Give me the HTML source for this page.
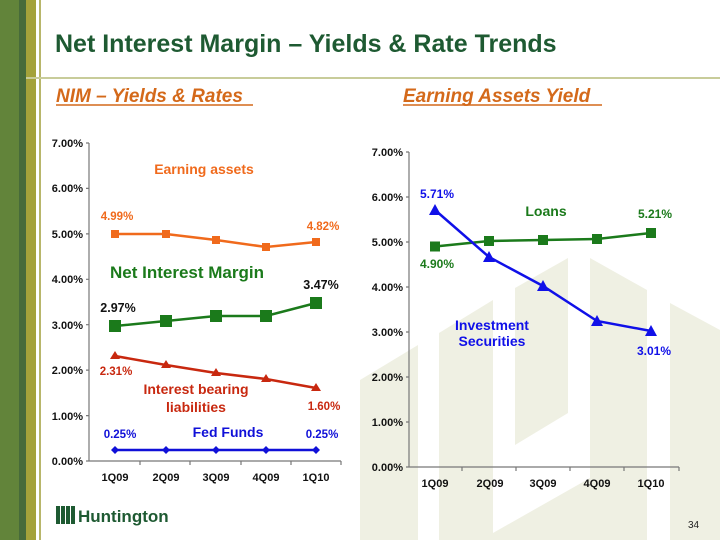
<!DOCTYPE html>
<html><head><meta charset="utf-8"><style>
body{margin:0;width:720px;height:540px;overflow:hidden;background:#fff;font-family:"Liberation Sans",Arial,sans-serif;}
</style></head><body>
<svg width="720" height="540" viewBox="0 0 720 540" xmlns="http://www.w3.org/2000/svg" font-family="Liberation Sans, Arial, sans-serif">
<!-- watermark -->
<g fill="#eff0e3">
<polygon points="360,380 418,345 418,540 360,540"/>
<polygon points="439,333 493,300 493,540 439,540"/>
<polygon points="515,288 568,258 568,413 515,445"/>
<polygon points="590,258 647,290 647,540 493,540 493,533 590,478"/>
<polygon points="670,303 720,330 720,540 670,540"/>
</g>
<!-- left stripes -->
<rect x="0" y="0" width="19" height="540" fill="#62843a"/>
<rect x="19" y="0" width="7" height="540" fill="#476b3a"/>
<rect x="26" y="0" width="10" height="540" fill="#a4a23a"/>
<rect x="39" y="0" width="2" height="540" fill="#b8b66a"/>
<rect x="26" y="77" width="694" height="2" fill="#c8cc9a"/>
<text x="55" y="52" font-size="25" font-weight="bold" fill="#1e5a32">Net Interest Margin – Yields &amp; Rate Trends</text>
<text x="56" y="102" font-size="19" font-weight="bold" font-style="italic" fill="#d4691a">NIM – Yields &amp; Rates</text>
<line x1="56" y1="105" x2="253" y2="105" stroke="#d4691a" stroke-width="1.5"/>
<text x="403" y="102" font-size="19" font-weight="bold" font-style="italic" fill="#d4691a">Earning Assets Yield</text>
<line x1="403" y1="105" x2="602" y2="105" stroke="#d4691a" stroke-width="1.5"/>

<!-- left chart axes -->
<g stroke="#777" stroke-width="1.2" fill="none">
<line x1="89" y1="143" x2="89" y2="461"/>
<line x1="89" y1="461" x2="341" y2="461"/>
<path d="M86 143h3M86 188.4h3M86 233.9h3M86 279.3h3M86 324.7h3M86 370.1h3M86 415.6h3M86 461h3"/>
<path d="M140 461v4M190 461v4M241 461v4M291 461v4M341 461v4"/>
</g>
<g font-size="11" font-weight="bold" fill="#111" text-anchor="end">
<text x="83" y="147">7.00%</text><text x="83" y="192">6.00%</text><text x="83" y="238">5.00%</text><text x="83" y="283">4.00%</text><text x="83" y="329">3.00%</text><text x="83" y="374">2.00%</text><text x="83" y="420">1.00%</text><text x="83" y="465">0.00%</text>
</g>
<g font-size="11" font-weight="bold" fill="#111" text-anchor="middle">
<text x="115" y="481">1Q09</text><text x="166" y="481">2Q09</text><text x="216" y="481">3Q09</text><text x="266" y="481">4Q09</text><text x="316" y="481">1Q10</text>
</g>
<polyline points="115,234 166,234 216,240 266,247 316,242" fill="none" stroke="#f06a1c" stroke-width="2.5"/>
<g fill="#f06a1c"><rect x="111" y="230" width="8" height="8"/><rect x="162" y="230" width="8" height="8"/><rect x="212" y="236" width="8" height="8"/><rect x="262" y="243" width="8" height="8"/><rect x="312" y="238" width="8" height="8"/></g>
<polyline points="115,326 166,321 216,316 266,316 316,303" fill="none" stroke="#1b7a1b" stroke-width="2.5"/>
<g fill="#1b7a1b"><rect x="109" y="320" width="12" height="12"/><rect x="160" y="315" width="12" height="12"/><rect x="210" y="310" width="12" height="12"/><rect x="260" y="310" width="12" height="12"/><rect x="310" y="297" width="12" height="12"/></g>
<polyline points="115,356 166,365 216,373 266,379 316,388" fill="none" stroke="#c8280f" stroke-width="2.5"/>
<g fill="#c8280f"><polygon points="115,351 120,359 110,359"/><polygon points="166,360 171,368 161,368"/><polygon points="216,368 221,376 211,376"/><polygon points="266,374 271,382 261,382"/><polygon points="316,383 321,391 311,391"/></g>
<polyline points="115,450 316,450" fill="none" stroke="#1010d8" stroke-width="2.5"/>
<g fill="#1010d8"><polygon points="115,446 119,450 115,454 111,450"/><polygon points="166,446 170,450 166,454 162,450"/><polygon points="216,446 220,450 216,454 212,450"/><polygon points="266,446 270,450 266,454 262,450"/><polygon points="316,446 320,450 316,454 312,450"/></g>
<g font-weight="bold">
<text x="204" y="174" font-size="14" fill="#f06a1c" text-anchor="middle">Earning assets</text>
<text x="117" y="220" font-size="11.5" fill="#f06a1c" text-anchor="middle">4.99%</text>
<text x="323" y="230" font-size="11.5" fill="#f06a1c" text-anchor="middle">4.82%</text>
<text x="187" y="278" font-size="17" fill="#1b7a1b" text-anchor="middle">Net Interest Margin</text>
<text x="118" y="312" font-size="12.5" fill="#111" text-anchor="middle">2.97%</text>
<text x="321" y="289" font-size="12.5" fill="#111" text-anchor="middle">3.47%</text>
<text x="116" y="375" font-size="11.5" fill="#c8280f" text-anchor="middle">2.31%</text>
<text x="196" y="394" font-size="14" fill="#c8280f" text-anchor="middle">Interest bearing</text>
<text x="196" y="412" font-size="14" fill="#c8280f" text-anchor="middle">liabilities</text>
<text x="324" y="410" font-size="11.5" fill="#c8280f" text-anchor="middle">1.60%</text>
<text x="120" y="438" font-size="11.5" fill="#1010d8" text-anchor="middle">0.25%</text>
<text x="228" y="437" font-size="14" fill="#1010d8" text-anchor="middle">Fed Funds</text>
<text x="322" y="438" font-size="11.5" fill="#1010d8" text-anchor="middle">0.25%</text>
</g>

<!-- right chart -->
<g stroke="#777" stroke-width="1.2" fill="none">
<line x1="409" y1="152" x2="409" y2="467"/>
<line x1="409" y1="467" x2="679" y2="467"/>
<path d="M406 152h3M406 197h3M406 242h3M406 287h3M406 332h3M406 377h3M406 422h3M406 467h3"/>
<path d="M462 467v4M516 467v4M570 467v4M624 467v4M679 467v4"/>
</g>
<g font-size="11" font-weight="bold" fill="#111" text-anchor="end">
<text x="403" y="156">7.00%</text><text x="403" y="201">6.00%</text><text x="403" y="246">5.00%</text><text x="403" y="291">4.00%</text><text x="403" y="336">3.00%</text><text x="403" y="381">2.00%</text><text x="403" y="426">1.00%</text><text x="403" y="471">0.00%</text>
</g>
<g font-size="11" font-weight="bold" fill="#111" text-anchor="middle">
<text x="435" y="487">1Q09</text><text x="490" y="487">2Q09</text><text x="543" y="487">3Q09</text><text x="597" y="487">4Q09</text><text x="651" y="487">1Q10</text>
</g>
<polyline points="435,246.5 489,241 543,240 597,239 651,233" fill="none" stroke="#1b7a1b" stroke-width="2.5"/>
<g fill="#1b7a1b"><rect x="430" y="241.5" width="10" height="10"/><rect x="484" y="236" width="10" height="10"/><rect x="538" y="235" width="10" height="10"/><rect x="592" y="234" width="10" height="10"/><rect x="646" y="228" width="10" height="10"/></g>
<polyline points="435,210 489,257 543,286 597,321 651,331" fill="none" stroke="#1010e8" stroke-width="2.5"/>
<g fill="#1010e8"><polygon points="435,204 441,215 429,215"/><polygon points="489,251 495,262 483,262"/><polygon points="543,280 549,291 537,291"/><polygon points="597,315 603,326 591,326"/><polygon points="651,325 657,336 645,336"/></g>
<g font-weight="bold">
<text x="437" y="198" font-size="12" fill="#1010e8" text-anchor="middle">5.71%</text>
<text x="546" y="216" font-size="14" fill="#1b7a1b" text-anchor="middle">Loans</text>
<text x="655" y="218" font-size="12" fill="#1b7a1b" text-anchor="middle">5.21%</text>
<text x="437" y="268" font-size="12" fill="#1b7a1b" text-anchor="middle">4.90%</text>
<text x="492" y="330" font-size="14" fill="#1010e8" text-anchor="middle">Investment</text>
<text x="492" y="346" font-size="14" fill="#1010e8" text-anchor="middle">Securities</text>
<text x="654" y="355" font-size="12" fill="#1010e8" text-anchor="middle">3.01%</text>
</g>

<g fill="#1e5a32">
<rect x="56" y="506" width="4" height="18"/><rect x="61" y="506" width="4" height="18"/><rect x="66" y="506" width="4" height="18"/><rect x="71" y="506" width="4" height="18"/>
</g>
<text x="78" y="522" font-size="17" font-weight="bold" fill="#1e5a32">Huntington</text>
<text x="688" y="528" font-size="10" fill="#222">34</text>
</svg>
</body></html>
